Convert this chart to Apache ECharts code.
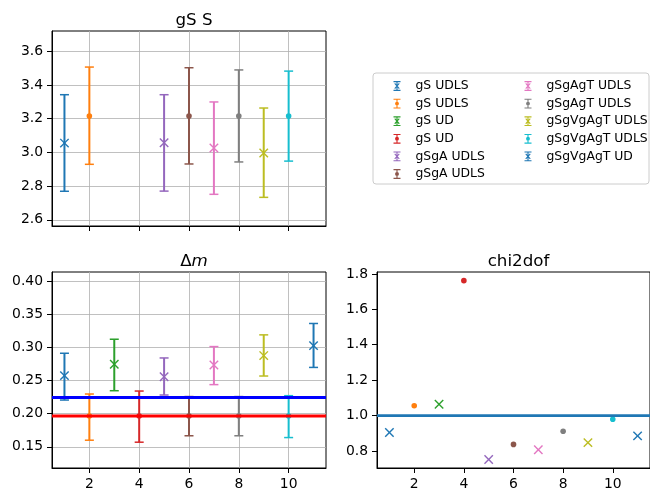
<!DOCTYPE html>
<html>
<head>
<meta charset="utf-8">
<script src="https://cdn.jsdelivr.net/npm/echarts@6/dist/echarts.min.js"></script>
<style>
  html, body { margin: 0; padding: 0; background: #fff; }
  #chart { width: 650px; height: 491px; }
</style>
</head>
<body>
<div id="chart"></div>
<script>
// entries (x position, label, marker, colour)
const xs = [1, 2, 3, 4, 5, 6, 7, 8, 9, 10, 11];
const labels = ['gS UDLS', 'gS UDLS', 'gS UD', 'gS UD', 'gSgA UDLS', 'gSgA UDLS',
    'gSgAgT UDLS', 'gSgAgT UDLS', 'gSgVgAgT UDLS', 'gSgVgAgT UDLS', 'gSgVgAgT UD'];
const markers = ['x', 'o', 'x', 'o', 'x', 'o', 'x', 'o', 'x', 'o', 'x'];
const colors = ['#1f77b4', '#ff7f0e', '#2ca02c', '#d62728', '#9467bd', '#8c564b',
    '#e377c2', '#7f7f7f', '#bcbd22', '#17becf', '#1f77b4'];

// gS S panel (null = not plotted)
const sVal = [3.055, 3.215, null, null, 3.057, 3.215, 3.026, 3.215, 2.996, 3.215, null];
const sLo = [2.769, 2.929, null, null, 2.770, 2.931, 2.751, 2.943, 2.733, 2.948, null];
const sHi = [3.342, 3.506, null, null, 3.342, 3.502, 3.299, 3.489, 3.263, 3.482, null];

// delta m panel
const dmVal = [0.2576, 0.1965, 0.2747, 0.1965, 0.2560, 0.1965, 0.2737, 0.1965, 0.2879, 0.1965, 0.3030];
const dmLo = [0.2207, 0.1600, 0.2348, 0.1570, 0.2283, 0.1667, 0.2440, 0.1667, 0.2570, 0.1640, 0.2700];
const dmHi = [0.2914, 0.2298, 0.3126, 0.2343, 0.2843, 0.2260, 0.3015, 0.2260, 0.3192, 0.2273, 0.3364];
const dmBlueLine = 0.2247;
const dmRedLine = 0.1965;

// chi2dof panel
const chi2 = [0.904, 1.055, 1.064, 1.762, 0.752, 0.837, 0.807, 0.911, 0.847, 0.979, 0.885];
const chiLine = 1.0;

// ticks
const xTicks = [2, 4, 6, 8, 10];
const sTicks = [2.6, 2.8, 3.0, 3.2, 3.4, 3.6];
const dmTicks = [0.15, 0.20, 0.25, 0.30, 0.35, 0.40];
const chiTicks = [0.8, 1.0, 1.2, 1.4, 1.6, 1.8];

const FONT = 'DejaVu Sans';
const X_MIN = 0.5, X_MAX = 11.5;

const ICON_X = 'path://M0,0H10V1.6H0Z M4.2,0H5.8V14H4.2Z M0,12.4H10V14H0Z ' +
    'M1.2,3.9L2.3,2.8L8.8,10.1L7.7,11.2Z M7.7,2.8L8.8,3.9L2.3,11.2L1.2,10.1Z';
const ICON_O = 'path://M0,0H10V1.6H0Z M4.2,0H5.8V14H4.2Z M0,12.4H10V14H0Z ' +
    'M5,4.2A2.8,2.8 0 1,1 5,9.8A2.8,2.8 0 1,1 5,4.2Z';

function makeRender(marker, color) {
    return function (params, api) {
        const x = api.value(0), y = api.value(1);
        const lo = api.value(2), hi = api.value(3);
        const p = api.coord([x, y]);
        const children = [];
        if (lo != null && !isNaN(lo)) {
            const pl = api.coord([x, lo]);
            const ph = api.coord([x, hi]);
            const cap = 4.5;
            children.push({ type: 'line', shape: { x1: pl[0], y1: pl[1], x2: ph[0], y2: ph[1] },
                style: { stroke: color, lineWidth: 2 } });
            children.push({ type: 'line', shape: { x1: ph[0] - cap, y1: ph[1], x2: ph[0] + cap, y2: ph[1] },
                style: { stroke: color, lineWidth: 1.5 } });
            children.push({ type: 'line', shape: { x1: pl[0] - cap, y1: pl[1], x2: pl[0] + cap, y2: pl[1] },
                style: { stroke: color, lineWidth: 1.5 } });
        }
        if (marker === 'x') {
            const d = 4.2;
            children.push({ type: 'line', shape: { x1: p[0] - d, y1: p[1] - d, x2: p[0] + d, y2: p[1] + d },
                style: { stroke: color, lineWidth: 1.4 } });
            children.push({ type: 'line', shape: { x1: p[0] - d, y1: p[1] + d, x2: p[0] + d, y2: p[1] - d },
                style: { stroke: color, lineWidth: 1.4 } });
        } else {
            children.push({ type: 'circle', shape: { cx: p[0], cy: p[1], r: 2.8 }, style: { fill: color } });
        }
        return { type: 'group', children: children };
    };
}

const series = [];
for (let i = 0; i < xs.length; i++) {
    const name = labels[i] + '#' + i;
    const render = makeRender(markers[i], colors[i]);
    if (sVal[i] != null) {
        series.push({
            type: 'custom', name: name, xAxisIndex: 0, yAxisIndex: 0, renderItem: render,
            itemStyle: { color: colors[i] }, data: [[xs[i], sVal[i], sLo[i], sHi[i]]], z: 3
        });
    }
    series.push({
        type: 'custom', name: name, xAxisIndex: 1, yAxisIndex: 1, renderItem: render,
        itemStyle: { color: colors[i] }, data: [[xs[i], dmVal[i], dmLo[i], dmHi[i]]], z: 3
    });
    series.push({
        type: 'custom', name: name, xAxisIndex: 2, yAxisIndex: 2, renderItem: render,
        itemStyle: { color: colors[i] }, data: [[xs[i], chi2[i]]], z: 3
    });
}

function hline(axis, value, color, width) {
    return {
        type: 'line', xAxisIndex: axis, yAxisIndex: axis, silent: true, showSymbol: false, z: 5,
        lineStyle: { color: color, width: width }, data: [[X_MIN, value], [X_MAX, value]]
    };
}
series.push(hline(1, dmBlueLine, '#0000ff', 3));
series.push(hline(1, dmRedLine, '#ff0000', 3));
series.push(hline(2, chiLine, '#1f77b4', 2.8));

function xAxis(idx, showLabels, grid) {
    return {
        type: 'value', gridIndex: idx, min: X_MIN, max: X_MAX,
        axisLine: { show: true, onZero: false, lineStyle: { color: '#000', width: 1 } },
        axisTick: { show: true, length: 5, customValues: xTicks, lineStyle: { color: '#000', width: 1 } },
        axisLabel: { show: showLabels, customValues: xTicks, color: '#000', fontSize: 13.9, fontFamily: FONT, margin: 9 },
        splitLine: { show: grid, lineStyle: { color: '#b0b0b0', width: 0.8 } }
    };
}
function yAxis(idx, min, max, ticks, digits, grid) {
    return {
        type: 'value', gridIndex: idx, min: min, max: max,
        axisLine: { show: true, onZero: false, lineStyle: { color: '#000', width: 1 } },
        axisTick: { show: true, length: 5, customValues: ticks, lineStyle: { color: '#000', width: 1 } },
        axisLabel: {
            customValues: ticks, color: '#000', fontSize: 13.9, fontFamily: FONT, margin: 9,
            formatter: v => v.toFixed(digits)
        },
        splitLine: { show: grid, lineStyle: { color: '#b0b0b0', width: 0.8 } }
    };
}

const legendNames = labels.map((l, i) => l + '#' + i);
function legendData(from, to) {
    return legendNames.slice(from, to).map((n, k) => ({
        name: n, icon: markers[from + k] === 'x' ? ICON_X : ICON_O,
        itemStyle: { color: colors[from + k] }
    }));
}
function legend(left, from, to) {
    return {
        left: left, top: 75, orient: 'vertical', itemWidth: 7, itemHeight: 10, itemGap: 5.6,
        selectedMode: false, data: legendData(from, to),
        formatter: n => '{t|' + n.split('#')[0] + '}',
        textStyle: {
            fontSize: 12.4, fontFamily: FONT, color: '#000',
            rich: { t: { fontSize: 12.4, fontFamily: FONT, color: '#000', lineHeight: 12, padding: [0, 0, 0, 10] } }
        }
    };
}

const titleStyle = { fontSize: 16.7, fontWeight: 'normal', fontFamily: FONT, color: '#000' };

const option = {
    animation: false,
    backgroundColor: '#fff',
    textStyle: { fontFamily: FONT },
    title: [
        { text: 'gS S', left: 189, top: 7, textAlign: 'center', textStyle: titleStyle },
        {
            text: '{a|Δ}{b|m}', left: 189, top: 248, textAlign: 'center',
            textStyle: Object.assign({}, titleStyle, {
                rich: { a: { fontSize: 16.7, fontFamily: FONT, color: '#000' },
                        b: { fontSize: 16.7, fontFamily: FONT, fontStyle: 'italic', color: '#000' } }
            })
        },
        { text: 'chi2dof', left: 513.5, top: 248, textAlign: 'center', textStyle: titleStyle }
    ],
    grid: [
        { left: 52, top: 31, width: 274, height: 195, show: true, borderColor: '#000', borderWidth: 1, backgroundColor: 'transparent' },
        { left: 52, top: 272, width: 274, height: 196, show: true, borderColor: '#000', borderWidth: 1, backgroundColor: 'transparent' },
        { left: 377, top: 272, width: 273, height: 196, show: true, borderColor: '#000', borderWidth: 1, backgroundColor: 'transparent' }
    ],
    xAxis: [xAxis(0, false, true), xAxis(1, true, true), xAxis(2, true, false)],
    yAxis: [
        yAxis(0, 2.563, 3.72, sTicks, 1, true),
        yAxis(1, 0.118, 0.4142, dmTicks, 2, true),
        yAxis(2, 0.7036, 1.811, chiTicks, 1, false)
    ],
    legend: [legend(388.5, 0, 6), legend(519.5, 6, 11)],
    graphic: [{
        type: 'rect', z: 1, shape: { x: 373, y: 73, width: 276, height: 111, r: 3 },
        style: { fill: '#fff', stroke: '#cccccc', lineWidth: 1 }
    }],
    series: series
};

const chart = echarts.init(document.getElementById('chart'), null, { renderer: 'canvas' });
chart.setOption(option);
</script>
</body>
</html>
